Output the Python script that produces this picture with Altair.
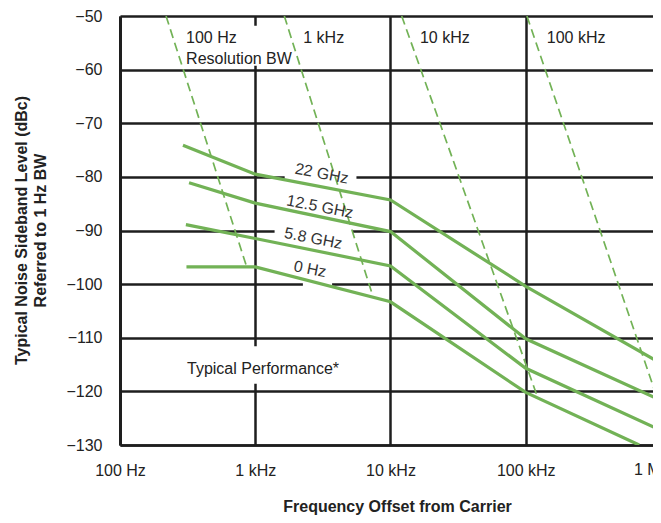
import altair as alt
import pandas as pd

# ---------------- data ----------------
series_names = ["22 GHz", "12.5 GHz", "5.8 GHz", "0 Hz"]
freq_22 = [292, 1000, 10000, 100000, 1000000]
level_22 = [-74.1, -79.5, -84.3, -100.4, -114.8]
freq_125 = [324, 1000, 10000, 100000, 1000000]
level_125 = [-81.1, -84.9, -90.2, -110.2, -121.7]
freq_58 = [307, 1000, 10000, 100000, 1000000]
level_58 = [-88.9, -91.5, -96.6, -115.7, -127.3]
freq_0 = [310, 1000, 10000, 100000, 690000]
level_0 = [-96.8, -96.8, -103.3, -120.2, -130.0]

# resolution-bandwidth (dashed) lines: start at top, end on a curve
rbw_names = ["100 Hz", "1 kHz", "10 kHz", "100 kHz"]
rbw_freq_top = [219, 1640, 12100, 102000]
rbw_level_top = [-50, -50, -50, -50]
rbw_freq_end = [865, 7460, 120000, 933000]
rbw_level_end = [-96.8, -102.5, -120.5, -121.1]

# axis ticks (the picture is cut just short of 1 MHz)
x_ticks = [100, 1000, 10000, 100000]
x_tick_labels = ["100 Hz", "1 kHz", "10 kHz", "100 kHz"]
x_edge_label = ["1 MHz"]
x_edge_freq = [1000000]
x_visible_max = 872700
y_ticks = [-130, -120, -110, -100, -90, -80, -70, -60, -50]

# annotation anchors
rbw_label_freq = [308, 2265, 16500, 143000]
rbw_label_level = [-54.1, -54.1, -54.1, -54.1]
sub_label = ["Resolution BW"]
sub_label_freq = [308]
sub_label_level = [-58.1]
curve_label_freq = [3100, 3010, 2690, 2540]
curve_label_level = [-79.4, -85.6, -91.5, -97.2]
note_text = ["Typical Performance*"]
note_freq = [313]
note_level = [-115.8]

# small white boxes that break the grid behind the annotations
gap_freq0 = [305, 300, 1650, 1390, 2250]
gap_freq1 = [2000, 5400, 5600, 5200, 3700]
gap_level0 = [-51.8, -111.6, -79.0, -89.0, -99.0]
gap_level1 = [-59.3, -118.6, -81.0, -91.0, -101.0]

# ---------------- styling ----------------
FONT = "Liberation Sans"
GREEN = "#72b256"
INK = "#1e1e1e"
TXT = "#222222"

rows = []
for name, fs, ls in zip(series_names,
                        [freq_22, freq_125, freq_58, freq_0],
                        [level_22, level_125, level_58, level_0]):
    for f, l in zip(fs, ls):
        rows.append({"series": name, "f": f, "lvl": l})
df_lines = pd.DataFrame(rows)

df_rbw = pd.DataFrame({"name": rbw_names, "f": rbw_freq_top, "lvl": rbw_level_top,
                       "f2": rbw_freq_end, "lvl2": rbw_level_end})
df_rbw_lab = pd.DataFrame({"label": rbw_names, "f": rbw_label_freq, "lvl": rbw_label_level})
df_sub = pd.DataFrame({"label": sub_label, "f": sub_label_freq, "lvl": sub_label_level})
df_curve_lab = pd.DataFrame({"label": series_names, "f": curve_label_freq, "lvl": curve_label_level})
df_note = pd.DataFrame({"label": note_text, "f": note_freq, "lvl": note_level})
df_gap = pd.DataFrame({"f": gap_freq0, "f2": gap_freq1, "lvl": gap_level0, "lvl2": gap_level1})
df_edge = pd.DataFrame({"label": x_edge_label, "f": x_edge_freq, "lvl": [y_ticks[0]]})

x_expr = ""
for v, l in zip(x_ticks, x_tick_labels):
    x_expr += f"round(datum.value) == {v} ? '{l}' : "
x_expr += "''"

x_axis = alt.Axis(values=x_ticks, labelExpr=x_expr, grid=True, gridColor=INK, gridWidth=2.5,
                  gridOpacity=1, ticks=False, domain=True, domainColor=INK, domainWidth=2.5,
                  labelFont=FONT, labelFontSize=16,
                  labelColor=TXT, labelPadding=17, labelFlush=False, labelOverlap=False,
                  labelBound=False,
                  title="Frequency Offset from Carrier", titleFont=FONT, titleFontSize=16,
                  titleFontWeight="bold", titleColor=TXT, titleX=277, titleY=66,
                  titleAlign="center", titleBaseline="alphabetic")
y_axis = alt.Axis(values=y_ticks, labelExpr="datum.value < 0 ? '\u2212' + abs(datum.value) : '' + datum.value",
                  grid=True, gridColor=INK, gridWidth=2.5, gridOpacity=1, ticks=False,
                  domain=True, domainColor=INK, domainWidth=3,
                  labelFont=FONT, labelFontSize=16, labelColor=TXT, labelPadding=18,
                  labelOverlap=False, labelBound=False,
                  title=["Typical Noise Sideband Level (dBc)", "Referred to 1 Hz BW"],
                  titleFont=FONT, titleFontSize=16, titleFontWeight="bold", titleColor=TXT,
                  titleAngle=-90, titleX=-99, titleY=214, titleAlign="center",
                  titleBaseline="middle", titleLineHeight=19)

xs = alt.Scale(type="log", domain=[x_ticks[0], x_visible_max])
ys = alt.Scale(domain=[y_ticks[0], y_ticks[-1]])
X = alt.X("f:Q", scale=xs, axis=x_axis)
Y = alt.Y("lvl:Q", scale=ys, axis=y_axis)

gaps = alt.Chart(df_gap).mark_rect(color="white").encode(X, Y, x2="f2:Q", y2="lvl2:Q")
lines = alt.Chart(df_lines).mark_line(color=GREEN, strokeWidth=3.2, clip=True).encode(
    X, Y, detail="series:N", order="f:Q")
rbw = alt.Chart(df_rbw).mark_rule(color=GREEN, strokeWidth=1.7, strokeDash=[9, 5], clip=True).encode(
    X, Y, x2="f2:Q", y2="lvl2:Q")
rbw_lab = alt.Chart(df_rbw_lab).mark_text(align="left", baseline="middle", font=FONT,
                                           fontSize=16, color=TXT).encode(X, Y, text="label:N")
sub_lab = alt.Chart(df_sub).mark_text(align="left", baseline="middle", font=FONT,
                                       fontSize=16, color=TXT).encode(X, Y, text="label:N")
curve_lab = alt.Chart(df_curve_lab).mark_text(align="center", baseline="middle", font=FONT,
                                               fontSize=16, color="#333333", angle=11).encode(
    X, Y, text="label:N")
note = alt.Chart(df_note).mark_text(align="left", baseline="middle", font=FONT,
                                     fontSize=16, color=TXT).encode(X, Y, text="label:N")
edge = alt.Chart(df_edge).mark_text(align="center", baseline="top", font=FONT, fontSize=16,
                                     color=TXT, dy=17, dx=-4).encode(X, Y, text="label:N")

chart = alt.layer(gaps, lines, rbw, rbw_lab, sub_lab, curve_lab, note, edge).properties(
    width=533, height=429,
    autosize=alt.AutoSizeParams(type="none"),
    padding={"left": 112, "top": 8, "right": 0, "bottom": 70},
    background="white",
).configure_view(strokeWidth=0)

chart.save("out.html", embed_options={"renderer": "svg", "actions": False})
